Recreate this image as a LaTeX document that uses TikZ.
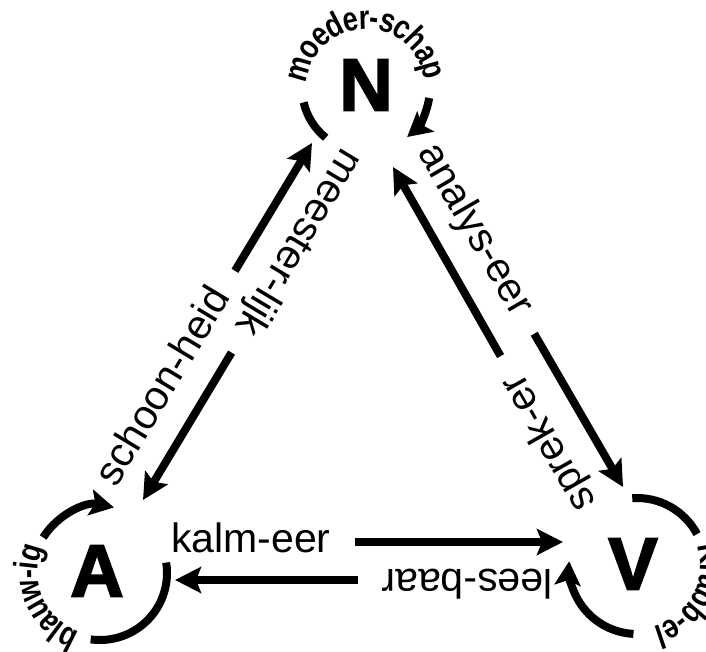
\documentclass[tikz,border=0pt]{standalone}
\usepackage{fontspec}
\usetikzlibrary{arrows.meta,decorations.text,calc}
\newfontfamily\labelfont{Liberation Sans}
\newfontfamily\loopfont[FakeStretch=0.8]{Liberation Sans Bold}
\newfontfamily\letterfont[FakeBold=2.5]{Liberation Sans Bold}

\tikzset{
  letter/.style={font=\letterfont\fontsize{74}{74}\selectfont, inner sep=0pt},
  lane label/.style={font=\labelfont\fontsize{41}{41}\selectfont, inner sep=0pt,
    text height=21pt, text depth=0pt, pos=0, sloped, allow upside down, anchor=west},
  flow/.style={line width=8pt, -{Stealth[length=26pt,width=26pt,inset=5pt]}, shorten <=24pt},
  ring/.style={line width=8pt},
  ring arrow/.style={line width=8pt, -{Stealth[length=24pt,width=26pt,inset=5pt]}},
  ring text/.style={decorate, decoration={text along path, text align=center, raise=-5pt,
    text={|\loopfont\fontsize{34}{34}\selectfont|#1}}}
}

\begin{document}
\begin{tikzpicture}[x=1pt,y=1pt]
  \useasboundingbox (0,0) rectangle (706,651);

  % the three letters
  \node[letter] (N) at (366,566) {N};
  \node[letter] (A) at (97,80) {A};
  \node[letter] (V) at (633,87) {V};
  \coordinate (Nc) at ($(N)+(0,-3)$);
  \coordinate (Ac) at ($(A)+(3,-2)$);
  \coordinate (Vc) at ($(V)+(4,-2)$);

  % rings round the letters
  \draw[ring] ($(Nc)+(231:64)$) arc[start angle=231, end angle=193, radius=64];
  \path[ring text=moeder-schap] ($(Nc)+(191.5:64)$) arc[start angle=191.5, end angle=-8.5, radius=64];
  \draw[ring arrow] ($(Nc)+(-9:64)$) arc[start angle=-9, end angle=-50, radius=64];

  \draw[ring] ($(Ac)+(9:67)$) arc[start angle=9, end angle=-98, radius=67];
  \path[ring text=blauw-ig] ($(Ac)+(263.5:67)$) arc[start angle=263.5, end angle=143.5, radius=67];
  \draw[ring arrow] ($(Ac)+(148:67)$) arc[start angle=148, end angle=78, radius=67];

  \draw[ring] ($(Vc)+(94:68)$) arc[start angle=94, end angle=28, radius=68];
  \path[ring text=Krabb-el] ($(Vc)+(32:68)$) arc[start angle=32, end angle=-88, radius=68];
  \draw[ring arrow] ($(Vc)+(-93:68)$) arc[start angle=-93, end angle=-184, radius=68];

  % lanes between the letters
  \coordinate (AN0) at (107,168);  \coordinate (AN1) at (312,508);
  \coordinate (NA0) at (352,499);  \coordinate (NA1) at (143,151);
  \coordinate (NV0) at (426,504);  \coordinate (NV1) at (623,164);
  \coordinate (VN0) at (587,143);  \coordinate (VN1) at (393,484);
  \coordinate (AV0) at (171,109);  \coordinate (AV1) at (563,109);
  \coordinate (VA0) at (553,71);   \coordinate (VA1) at (175,71);

  \path (AN0) -- (AN1) node[lane label] (schoon) {schoon-heid};
  \draw[flow] (schoon.east) -- (AN1);
  \path (NA0) -- (NA1) node[lane label] (meester) {meester-lijk};
  \draw[flow] (meester.east) -- (NA1);
  \path (NV0) -- (NV1) node[lane label] (analys) {analys-eer};
  \draw[flow] (analys.east) -- (NV1);
  \path (VN0) -- (VN1) node[lane label] (sprek) {sprek-er};
  \draw[flow] (sprek.east) -- (VN1);
  \path (AV0) -- (AV1) node[lane label] (kalm) {kalm-eer};
  \draw[flow] (kalm.east) -- (AV1);
  \path (VA0) -- (VA1) node[lane label] (lees) {lees-baar};
  \draw[flow] (lees.east) -- (VA1);
\end{tikzpicture}
\end{document}
